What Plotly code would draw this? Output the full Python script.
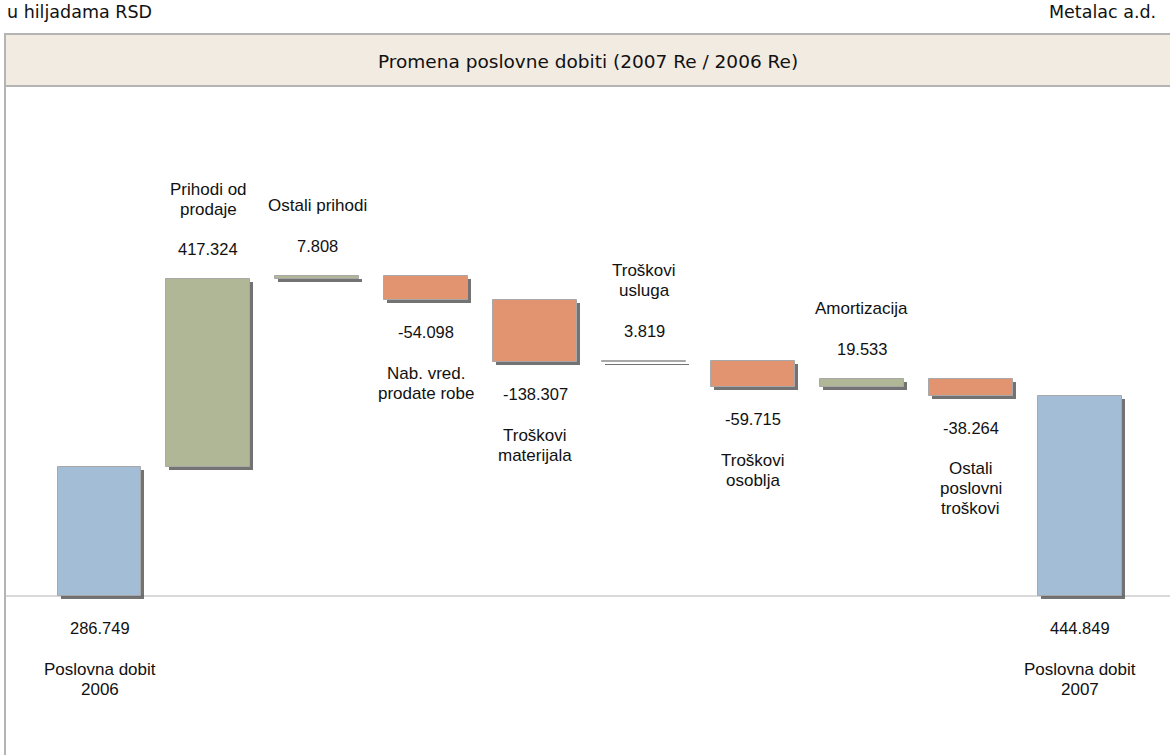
import plotly.graph_objects as go

# ---- data ----
categories = [
    "Poslovna dobit<br>2006",
    "Prihodi od<br>prodaje",
    "Ostali prihodi",
    "Nab. vred.<br>prodate robe",
    "Troškovi<br>materijala",
    "Troškovi<br>usluga",
    "Troškovi<br>osoblja",
    "Amortizacija",
    "Ostali<br>poslovni<br>troškovi",
    "Poslovna dobit<br>2007",
]
values = [286749, 417324, 7808, -54098, -138307, 3819, -59715, 19533, -38264, 444849]
kinds = ["total", "delta", "delta", "delta", "delta", "delta", "delta", "delta", "delta", "total"]

unit_label = "u hiljadama RSD"
company = "Metalac a.d."
title_text = "Promena poslovne dobiti (2007 Re / 2006 Re)"

# ---- styling ----
W, H = 1170, 755
C_TOTAL = "#a3bdd7"
C_POS = "#b0b797"
C_NEG = "#e1946f"
PX_PER_UNIT = 0.45 / 1000.0
BASE_PX = 596
X0_PX, STEP_PX = 99.5, 108.9
BAR_W = 0.771
LINE_PX = 20

def fmt(v):
    s = f"{abs(v):,}".replace(",", ".")
    return ("-" if v < 0 else "") + s

# waterfall geometry
xs = list(range(len(values)))
bases, heights, colors = [], [], []
running = 0
for v, k in zip(values, kinds):
    if k == "total":
        bases.append(0)
        heights.append(v)
        colors.append(C_TOTAL)
        running = v
    else:
        bases.append(running)
        heights.append(v)
        colors.append(C_POS if v >= 0 else C_NEG)
        running += v

dx = 3 / STEP_PX
dy = 3 / PX_PER_UNIT

fig = go.Figure()
fig.add_trace(go.Bar(
    x=[x + dx for x in xs], y=heights, base=[b - dy for b in bases],
    width=BAR_W, marker=dict(color="rgba(80,80,80,0.8)", line=dict(width=0)),
    hoverinfo="skip", showlegend=False,
))
fig.add_trace(go.Bar(
    x=xs, y=heights, base=bases, width=BAR_W,
    marker=dict(color=colors, line=dict(color="#a8a8a8", width=1)),
    showlegend=False,
    customdata=[fmt(v) for v in values],
    hovertemplate="%{customdata}<extra></extra>",
))

annotations = []
num_font = dict(family="Liberation Sans, Arial, sans-serif", size=16.5, color="#111111")
name_font = dict(family="Liberation Sans, Arial, sans-serif", size=17, color="#111111")
for i, (v, k, b, name) in enumerate(zip(values, kinds, bases, categories)):
    lines = name.split("<br>")
    top = max(b, b + v)
    bot = min(b, b + v)
    if k == "total" or v < 0:
        anchor_y = bot if k != "total" else 0
        annotations.append(dict(x=i, y=anchor_y, xref="x", yref="y", text=fmt(v),
                                showarrow=False, yanchor="middle", yshift=-32, font=num_font))
        for j, ln in enumerate(lines):
            annotations.append(dict(x=i, y=anchor_y, xref="x", yref="y", text=ln,
                                    showarrow=False, yanchor="middle",
                                    yshift=-(73 + j * LINE_PX), font=name_font))
    else:
        annotations.append(dict(x=i, y=top, xref="x", yref="y", text=fmt(v),
                                showarrow=False, yanchor="middle", yshift=30, font=num_font))
        n = len(lines)
        for j, ln in enumerate(lines):
            annotations.append(dict(x=i, y=top, xref="x", yref="y", text=ln,
                                    showarrow=False, yanchor="middle",
                                    yshift=70 + (n - 1 - j) * LINE_PX, font=name_font))

hdr_font = dict(family="DejaVu Sans, Verdana, sans-serif", size=17.5, color="#111111")
annotations.append(dict(x=5 / W, y=1 - 12 / H, xref="paper", yref="paper", text=unit_label,
                        showarrow=False, xanchor="left", yanchor="middle", font=hdr_font))
annotations.append(dict(x=1158 / W, y=1 - 12 / H, xref="paper", yref="paper", text=company,
                        showarrow=False, xanchor="right", yanchor="middle", font=hdr_font))
annotations.append(dict(x=588 / W, y=1 - 61 / H, xref="paper", yref="paper", text=title_text,
                        showarrow=False, xanchor="center", yanchor="middle",
                        font=dict(family="DejaVu Sans, Verdana, sans-serif", size=18.5, color="#111111")))

shapes = [
    # outer frame
    dict(type="rect", xref="paper", yref="paper", x0=5 / W, x1=1.01, y0=-0.05, y1=1 - 34 / H,
         line=dict(color="#b4b4b4", width=2), fillcolor="rgba(0,0,0,0)", layer="below"),
    # title band
    dict(type="rect", xref="paper", yref="paper", x0=5 / W, x1=1.01, y0=1 - 86 / H, y1=1 - 34 / H,
         line=dict(color="#b4b4b4", width=2), fillcolor="#f2ebe1", layer="below"),
    # baseline
    dict(type="line", xref="paper", yref="y", x0=5 / W, x1=1.0, y0=0, y1=0,
         line=dict(color="#b4b4b4", width=1), layer="below"),
]

fig.update_layout(
    width=W, height=H,
    margin=dict(l=0, r=0, t=0, b=0),
    paper_bgcolor="white", plot_bgcolor="rgba(0,0,0,0)",
    barmode="overlay", bargap=0,
    xaxis=dict(range=[-X0_PX / STEP_PX, (W - X0_PX) / STEP_PX], visible=False, fixedrange=True),
    yaxis=dict(range=[-(H - BASE_PX) / PX_PER_UNIT, BASE_PX / PX_PER_UNIT], visible=False, fixedrange=True),
    annotations=annotations,
    shapes=shapes,
    showlegend=False,
)

fig.write_html("out.html", config={"displayModeBar": False},
               post_script="document.body.style.margin='0';document.body.style.overflow='hidden';")
